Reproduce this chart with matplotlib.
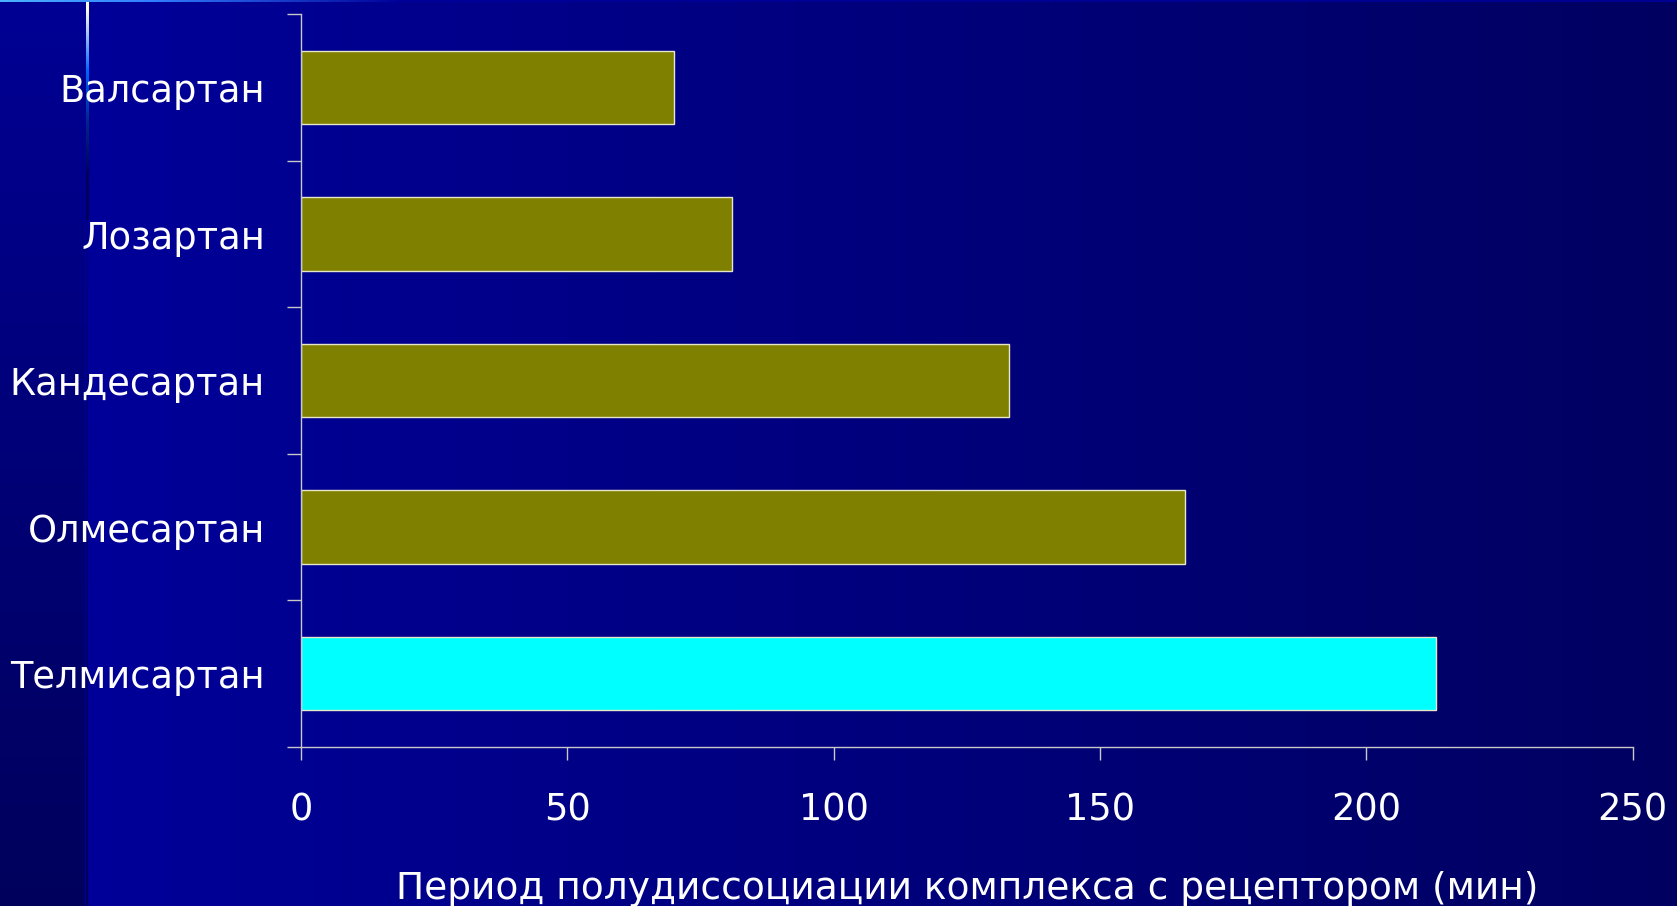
import numpy as np
import matplotlib
matplotlib.use("Agg")
from matplotlib import pyplot as plt

drugs = ['Валсартан', 'Лозартан', 'Кандесартан', 'Олмесартан', 'Телмисартан']
half_times = [70, 81, 133, 166, 213]
bar_colors = ['#808000', '#808000', '#808000', '#808000', '#00FFFF']
x_ticks = [0, 50, 100, 150, 200, 250]
x_label = 'Период полудиссоциации комплекса с рецептором (мин)'

W, H = 1677, 906
fig = plt.figure(figsize=(W / 100, H / 100), dpi=100)

# slide background: dark blue fading to the right, darker strip on the left
bg = fig.add_axes([0, 0, 1, 1], zorder=0)
bg.set_axis_off()
img = np.zeros((H, W, 3))
xs = np.arange(W)
ys = np.arange(H)
img[:, :, 2] = np.interp(xs, [85, W], [0.60, 0.38])[None, :]
img[:, :85, 2] = np.interp(ys, [0, H], [0.58, 0.36])[:, None]
# thin glowing line near the left edge
stops_y = [0, 8, 30, 70, 120, 175, 220]
r = np.interp(ys, stops_y, [1.0, 1.0, 0.7, 0.0, 0.0, 0.0, 0.0])
g = np.interp(ys, stops_y, [1.0, 1.0, 0.8, 0.4, 0.15, 0.0, 0.0])
b = np.interp(ys, stops_y, [0.8, 0.9, 1.0, 1.0, 0.55, 0.35, 0.36])
for c, arr in enumerate([r, g, b]):
    img[:, 86:89, c] = arr[:, None]
img[220:, 86:89, :] = img[220:, 83:86, :]
# light edge along the top
top_r = np.interp(xs, [0, 150, 400], [0.3, 0.2, 0.0])
top_g = np.interp(xs, [0, 150, 400], [0.7, 0.5, 0.0])
top_b = np.interp(xs, [0, 150, 400, 800], [1.0, 1.0, 0.6, 0.58])
img[0:2, :, 0] = top_r
img[0:2, :, 1] = top_g
img[0:2, :, 2] = np.maximum(top_b, img[2, :, 2])
bg.imshow(img, aspect='auto', extent=[0, 1, 0, 1], interpolation='nearest')

ax = fig.add_axes([0.1795, 0.1758, 0.7941, 0.8084], zorder=1)
ax.set_facecolor('none')

ypos = np.arange(len(drugs))
ax.barh(ypos, half_times, height=0.5, color=bar_colors, edgecolor='#E6E6C8', linewidth=1)

ax.set_ylim(len(drugs) - 0.5, -0.5)
ax.set_xlim(0, 250)
ax.set_xticks(x_ticks)
ax.set_xticklabels([str(t) for t in x_ticks])
ax.set_yticks(ypos)
ax.set_yticklabels(drugs)
ax.set_yticks(np.arange(-0.5, len(drugs)), minor=True)

line_col = '#C8C8C8'
for s in ['top', 'right']:
    ax.spines[s].set_visible(False)
for s in ['left', 'bottom']:
    ax.spines[s].set_color(line_col)
    ax.spines[s].set_linewidth(1)

ax.tick_params(axis='y', which='major', length=0, pad=26, labelsize=26.5, labelcolor='white')
ax.tick_params(axis='y', which='minor', length=10, width=1, color=line_col, direction='out')
ax.tick_params(axis='x', which='major', length=9.5, width=1, color=line_col, direction='out',
               pad=22.5, labelsize=26.5, labelcolor='white')
ax.set_xlabel(x_label, fontsize=27, color='white', labelpad=31)

plt.savefig('out.png', dpi=100)
